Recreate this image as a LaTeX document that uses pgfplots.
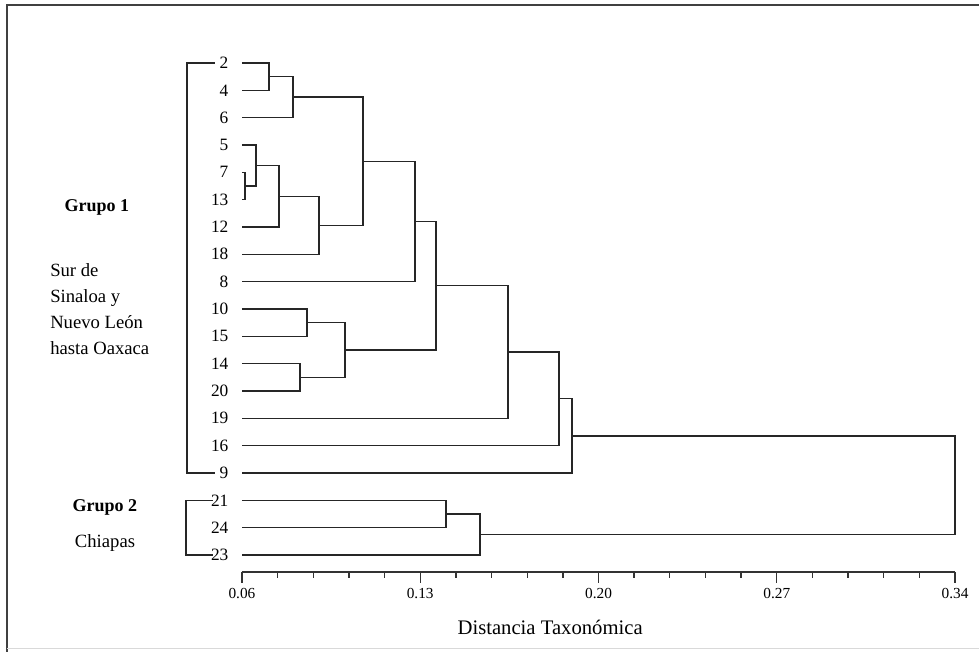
\documentclass[border=0pt]{standalone}
\usepackage{fontspec}
\setmainfont{Liberation Serif}
\usepackage{pgfplots}
\pgfplotsset{compat=1.18}
\begin{document}
\begin{tikzpicture}[dendro/.style={line width=1pt, draw=black!85, mark=none, solid}]
\begin{axis}[
  scale only axis, width=534.75pt, height=428.9pt,
  xmin=0.06, xmax=0.34, ymin=0.38, ymax=21.305,
  axis x line=bottom, axis y line=left,
  x axis line style={-, line width=1pt, draw=black!80},
  y axis line style={draw=none},
  xtick={0.06,0.13,0.2,0.27,0.34},
  xticklabels={0.06,0.13,0.20,0.27,0.34},
  minor x tick num=4,
  tick align=outside,
  major tick length=8pt, minor tick length=4.5pt,
  x tick style={line width=1pt, black!80},
  ytick={1,...,19},
  yticklabels={23,24,21,9,16,19,20,14,15,10,8,18,12,13,7,5,6,4,2},
  y tick style={draw=none},
  xticklabel style={font=\fontsize{11.5}{13}\selectfont, yshift=-1pt},
  yticklabel style={font=\fontsize{13}{15}\selectfont, inner sep=2pt},
  clip=false,
]
% dendrogram merges
\addplot[dendro] coordinates {(0.06,19) (0.0706,19) (0.0706,18) (0.06,18)};
\addplot[dendro] coordinates {(0.0706,18.5) (0.080,18.5) (0.080,17) (0.06,17)};
\addplot[dendro] coordinates {(0.06,15) (0.0612,15) (0.0612,14) (0.06,14)};
\addplot[dendro] coordinates {(0.06,16) (0.0655,16) (0.0655,14.5) (0.0612,14.5)};
\addplot[dendro] coordinates {(0.0655,15.25) (0.0745,15.25) (0.0745,13) (0.06,13)};
\addplot[dendro] coordinates {(0.0745,14.125) (0.0902,14.125) (0.0902,12) (0.06,12)};
\addplot[dendro] coordinates {(0.080,17.75) (0.1075,17.75) (0.1075,13.0625) (0.0902,13.0625)};
\addplot[dendro] coordinates {(0.1075,15.406) (0.1279,15.406) (0.1279,11) (0.06,11)};
\addplot[dendro] coordinates {(0.06,10) (0.0855,10) (0.0855,9) (0.06,9)};
\addplot[dendro] coordinates {(0.06,8) (0.0828,8) (0.0828,7) (0.06,7)};
\addplot[dendro] coordinates {(0.0855,9.5) (0.1004,9.5) (0.1004,7.5) (0.0828,7.5)};
\addplot[dendro] coordinates {(0.1279,13.203) (0.1362,13.203) (0.1362,8.5) (0.1004,8.5)};
\addplot[dendro] coordinates {(0.1362,10.852) (0.1645,10.852) (0.1645,6) (0.06,6)};
\addplot[dendro] coordinates {(0.1645,8.426) (0.1845,8.426) (0.1845,5) (0.06,5)};
\addplot[dendro] coordinates {(0.1845,6.713) (0.1896,6.713) (0.1896,4) (0.06,4)};
\addplot[dendro] coordinates {(0.06,3) (0.1401,3) (0.1401,2) (0.06,2)};
\addplot[dendro] coordinates {(0.1401,2.5) (0.1535,2.5) (0.1535,1) (0.06,1)};
\addplot[dendro] coordinates {(0.1896,5.356) (0.34,5.356) (0.34,1.75) (0.1535,1.75)};
% group brackets
\addplot[dendro] coordinates {(0.0494,19) (0.0384,19) (0.0384,4) (0.0494,4)};
\addplot[dendro] coordinates {(0.0486,3) (0.0380,3) (0.0380,1) (0.0486,1)};
% annotations
\node[font=\fontsize{13.5}{16}\selectfont\bfseries] at (axis cs:0.00306,13.73) {Grupo 1};
\node[anchor=west, align=left, inner sep=0pt, font=\fontsize{14}{19.5}\selectfont] at (axis cs:-0.0154,10.0) {Sur de\\Sinaloa y\\Nuevo León\\hasta Oaxaca};
\node[font=\fontsize{13.5}{16}\selectfont\bfseries] at (axis cs:0.0062,2.72) {Grupo 2};
\node[font=\fontsize{14}{16}\selectfont] at (axis cs:0.0062,1.44) {Chiapas};
\node[font=\fontsize{15.5}{18}\selectfont] at (axis cs:0.181,-1.67) {Distancia Taxonómica};
% frame
\draw[line width=1.5pt, black!75] (axis cs:0.36,21.122) -- (axis cs:-0.03228,21.122) -- (axis cs:-0.03228,-2.6);
\draw[line width=0.8pt, black!15] (axis cs:-0.03228,-2.42) -- (axis cs:0.36,-2.42);
\coordinate (bbtl) at (axis cs:-0.03503,21.305);
\coordinate (bbbr) at (axis cs:0.34942,-2.551);
\end{axis}
\pgfresetboundingbox
\path[use as bounding box] (bbtl) rectangle (bbbr);
\end{tikzpicture}
\end{document}
